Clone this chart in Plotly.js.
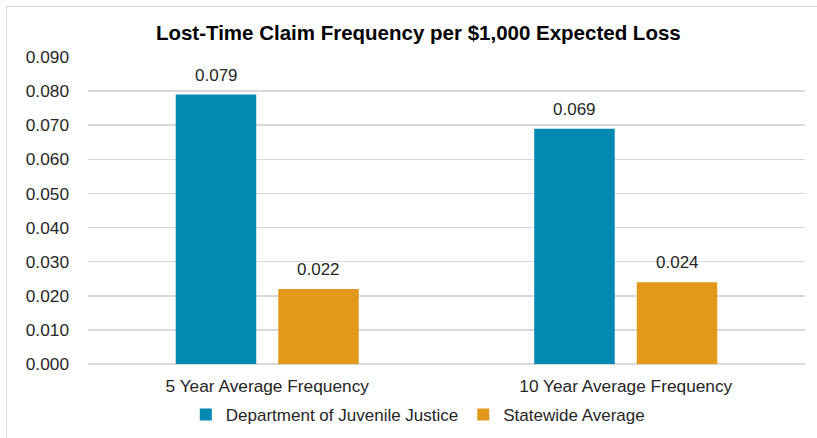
<!DOCTYPE html>
<html><head><meta charset="utf-8">
<script src="https://cdn.plot.ly/plotly-3.0.1.min.js"></script>
<style>
html,body{margin:0;padding:0;background:#fff;}
#wrap{position:relative;width:817px;height:438px;overflow:hidden;}
#frame{position:absolute;left:6px;top:6px;width:830px;height:460px;border:1px solid #d9d9d9;box-sizing:border-box;}
#chart{position:absolute;left:0;top:0;width:817px;height:438px;}
</style></head>
<body>
<div id="wrap"><div id="frame"></div><div id="chart"></div></div>
<script>
const categories = ["5 Year Average Frequency", "10 Year Average Frequency"];
const djjValues = [0.079, 0.069];
const statewideValues = [0.022, 0.024];
const seriesNames = ["Department of Juvenile Justice", "Statewide Average"];
const yTicks = [0, 0.01, 0.02, 0.03, 0.04, 0.05, 0.06, 0.07, 0.08, 0.09];

const fam = "Liberation Sans, Arial, sans-serif";
const tickFont = {family: fam, size: 17.3, color: "#262626"};
const labelFont = {family: fam, size: 17, color: "#262626"};
const legendFont = {family: fam, size: 17, color: "#262626"};

const traces = [
  {type: "bar", name: seriesNames[0], x: categories, y: djjValues, marker: {color: "#028AB3"}},
  {type: "bar", name: seriesNames[1], x: categories, y: statewideValues, marker: {color: "#E2991B"}}
];
const annotations = [];
[djjValues, statewideValues].forEach((vals, s) => {
  vals.forEach((v, i) => {
    annotations.push({x: categories[i], y: v, xref: "x", yref: "y", text: v.toFixed(3), showarrow: false,
      xshift: s === 0 ? -51 : 51.5, yshift: 8, yanchor: "bottom", font: labelFont});
  });
});
const layout = {
  width: 817, height: 438,
  margin: {l: 88, r: 12, t: 57, b: 74, autoexpand: false},
  paper_bgcolor: "rgba(0,0,0,0)", plot_bgcolor: "rgba(0,0,0,0)",
  font: tickFont,
  title: {text: "<b>Lost-Time Claim Frequency per $1,000 Expected Loss</b>", x: 0.512, xanchor: "center", y: 0.925, yanchor: "middle",
    font: {family: fam, size: 20.5, color: "#000"}},
  barmode: "group", bargap: 0.428, bargroupgap: 0.215,
  xaxis: {type: "category", showgrid: false, zeroline: false, showline: false, ticks: "", ticklabelstandoff: 10,
    tickfont: tickFont, automargin: false},
  yaxis: {range: [0, 0.09], tickvals: yTicks, tickformat: ".3f", showgrid: true, gridcolor: "#d9d9d9", gridwidth: 1.5,
    zeroline: true, zerolinecolor: "#d9d9d9", zerolinewidth: 1.5, showline: false, ticks: "", ticklabelstandoff: 18, tickfont: tickFont, automargin: false},
  legend: {orientation: "h", x: 0.46, xanchor: "center", y: -0.166, yanchor: "middle", font: legendFont,
    itemwidth: 30, tracegroupgap: 0, itemsizing: "constant"},
  annotations: annotations,
  showlegend: true
};
Plotly.newPlot("chart", traces, layout, {staticPlot: true, displayModeBar: false});
</script>
</body></html>
